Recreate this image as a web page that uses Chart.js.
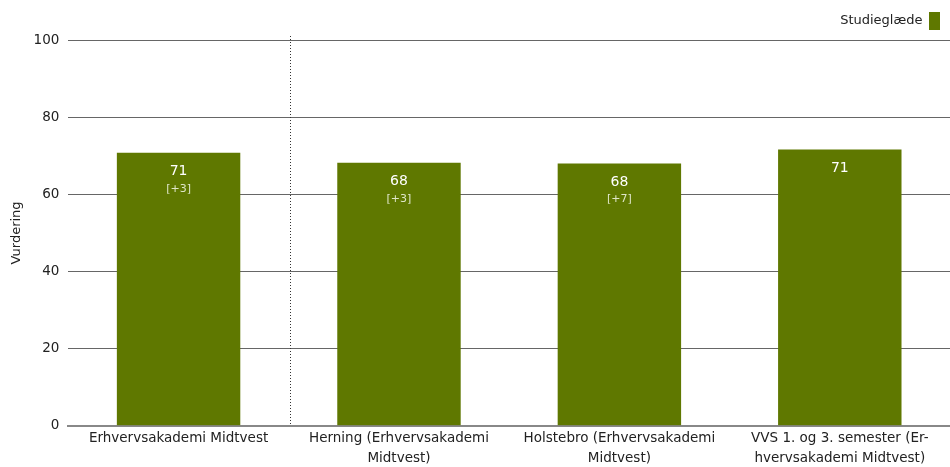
<!DOCTYPE html>
<html lang="da">
<head>
<meta charset="UTF-8">
<title>Studieglæde</title>
<script src="https://cdn.jsdelivr.net/npm/chart.js"></script>
<style>
    body { margin: 0; background: #fff; }
    .wrap { width: 950px; height: 467px; position: relative; }
</style>
</head>
<body>
<div class="wrap"><canvas id="chart"></canvas></div>
<script>
    // data
    const categories = [
        ['Erhvervsakademi Midtvest'],
        ['Herning (Erhvervsakademi', 'Midtvest)'],
        ['Holstebro (Erhvervsakademi', 'Midtvest)'],
        ['VVS 1. og 3. semester (Er-', 'hvervsakademi Midtvest)']
    ];
    const values = [70.8, 68.2, 68.0, 71.6];
    const shown = ['71', '68', '68', '71'];
    const deltas = ['[+3]', '[+3]', '[+7]', ''];
    const yTicks = [0, 20, 40, 60, 80, 100];

    const FONT = "'DejaVu Sans', Verdana, sans-serif";

    // text inside bars + dotted separator
    const barText = {
        id: 'barText',
        afterDatasetsDraw(chart) {
            const ctx = chart.ctx;
            const meta = chart.getDatasetMeta(0);
            ctx.save();
            ctx.textAlign = 'center';
            ctx.textBaseline = 'middle';
            meta.data.forEach((bar, i) => {
                ctx.fillStyle = '#ffffff';
                ctx.font = '14px ' + FONT;
                ctx.fillText(shown[i], bar.x, bar.y + 19);
                if (deltas[i]) {
                    ctx.fillStyle = '#dfe6c8';
                    ctx.font = '11px ' + FONT;
                    ctx.fillText(deltas[i], bar.x, bar.y + 36);
                }
            });
            // dotted line between first and other categories
            const x = chart.scales.x;
            const sepX = (x.getPixelForValue(0) + x.getPixelForValue(1)) / 2 + 1;
            ctx.strokeStyle = '#333';
            ctx.lineWidth = 1;
            ctx.setLineDash([1, 2]);
            ctx.beginPath();
            ctx.moveTo(Math.round(sepX) + 0.5, chart.chartArea.top - 4);
            ctx.lineTo(Math.round(sepX) + 0.5, chart.chartArea.bottom);
            ctx.stroke();
            ctx.restore();
        }
    };

    new Chart(document.getElementById('chart'), {
        type: 'bar',
        data: {
            labels: categories,
            datasets: [{
                label: 'Studieglæde',
                data: values,
                backgroundColor: '#5f7800',
                categoryPercentage: 1,
                barPercentage: 0.56
            }]
        },
        options: {
            responsive: true,
            maintainAspectRatio: false,
            animation: false,
            layout: { padding: { left: 0, right: 0, top: 2, bottom: -4 } },
            plugins: {
                tooltip: { enabled: false },
                legend: {
                    position: 'top',
                    align: 'start',
                    rtl: true,
                    labels: {
                        boxWidth: 11,
                        boxHeight: 18,
                        padding: 10,
                        color: '#222',
                        font: { family: FONT, size: 13 }
                    }
                }
            },
            scales: {
                x: {
                    grid: { display: false, drawTicks: false },
                    border: { display: true, color: '#888', width: 2 },
                    ticks: {
                        color: '#222',
                        padding: 3,
                        maxRotation: 0,
                        autoSkip: false,
                        font: { family: FONT, size: 13.5, lineHeight: 1.45 }
                    }
                },
                y: {
                    min: 0,
                    max: 100,
                    afterBuildTicks(axis) {
                        axis.ticks = yTicks.map(v => ({ value: v }));
                    },
                    grid: { color: '#666', drawTicks: false },
                    border: { display: false },
                    title: {
                        display: true,
                        text: 'Vurdering',
                        color: '#222',
                        padding: { top: 9, bottom: 0 },
                        font: { family: FONT, size: 13 }
                    },
                    ticks: {
                        color: '#222',
                        padding: 9,
                        font: { family: FONT, size: 13.5 }
                    }
                }
            }
        },
        plugins: [barText]
    });
</script>
</body>
</html>
